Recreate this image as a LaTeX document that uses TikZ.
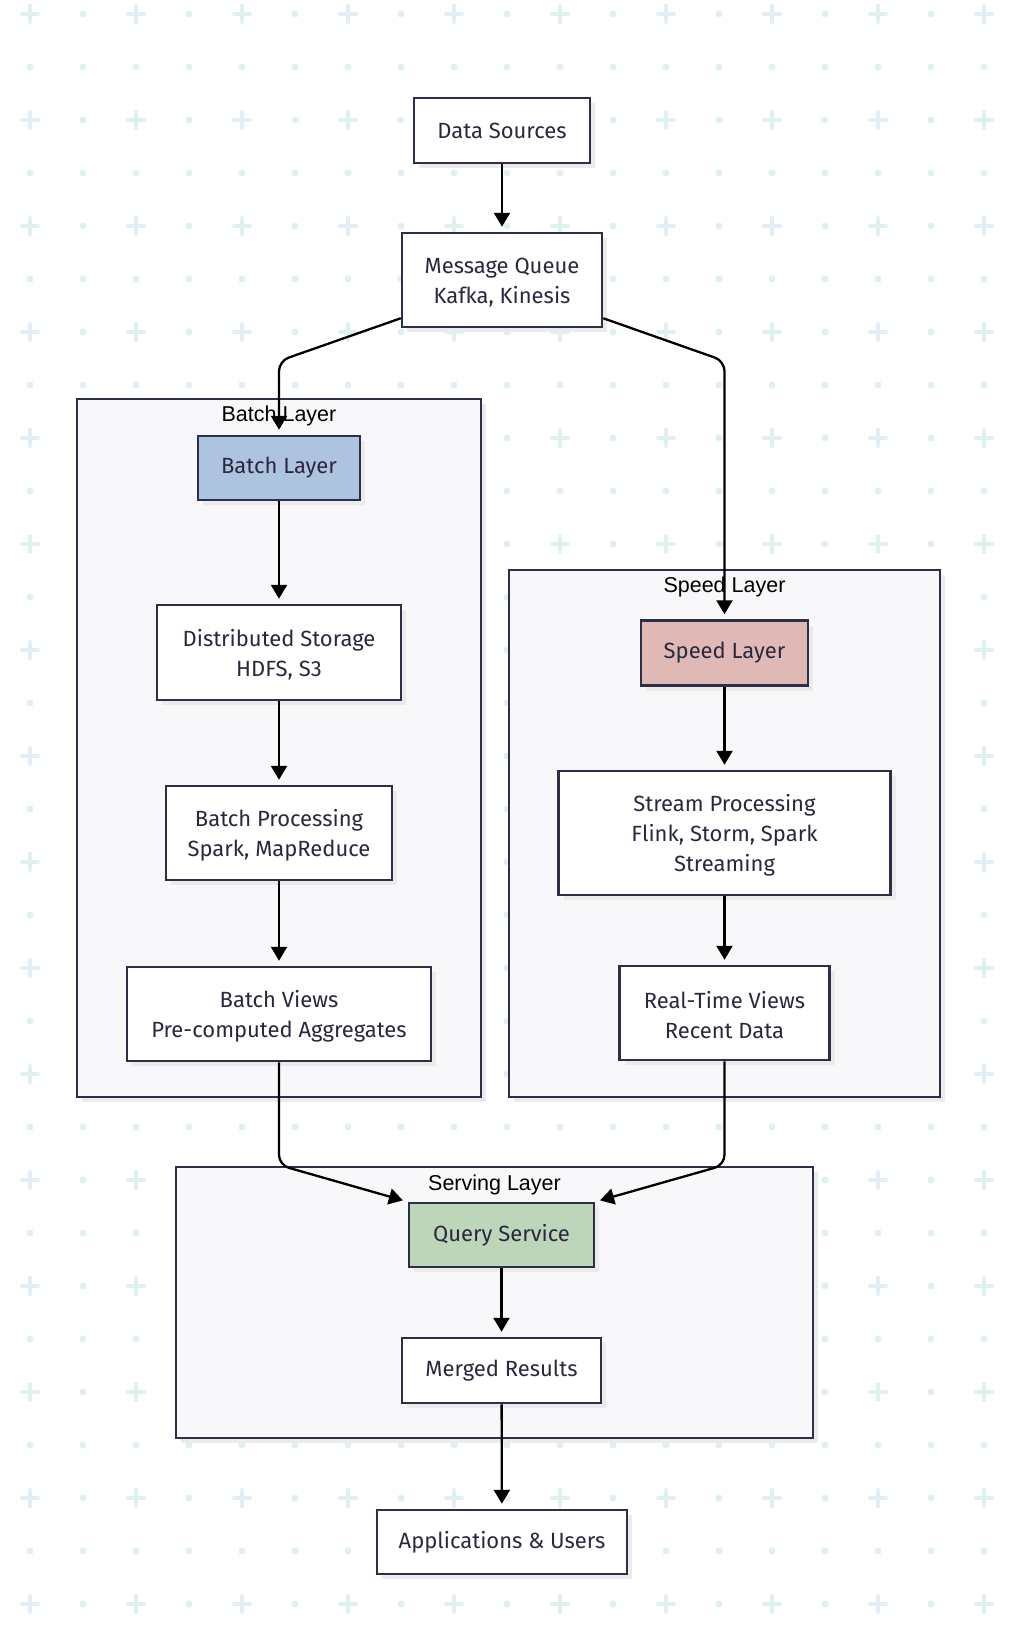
\documentclass[tikz,border=0pt]{standalone}
\usepackage{fontspec}
\setmainfont{Fira Sans}
\newfontfamily\titlefont{Liberation Sans}
\usetikzlibrary{arrows.meta,shadows}

\definecolor{ink}{HTML}{2A283F}
\definecolor{rim}{HTML}{2E2E48}
\definecolor{layerbg}{HTML}{F8F8FA}
\definecolor{gridcol}{HTML}{DFF0F3}
\definecolor{batchfill}{HTML}{AEC3E0}
\definecolor{speedfill}{HTML}{E0B9B7}
\definecolor{servefill}{HTML}{BDD5B9}

\tikzset{
	softshadow/.style={drop shadow={shadow xshift=5pt,shadow yshift=-5pt,fill=black!8,opacity=1}},
	box/.style={draw=rim,line width=2.5pt,fill=white,text=ink,align=center,inner sep=0pt,
		font=\fontsize{22}{30}\selectfont,softshadow},
	layer/.style={draw=rim,line width=2.5pt,fill=layerbg,softshadow},
	title/.style={font=\titlefont\fontsize{21.5}{24}\selectfont,text=black},
	flow/.style={-{Triangle[width=16pt,length=14pt]},line width=2.3pt,shorten >=5pt,rounded corners=10pt}
}

\begin{document}
\begin{tikzpicture}[x=1pt,y=-1pt]
		\useasboundingbox[fill=white] (0,0) rectangle (1012,1634);
		% dotted grid in the back
		\foreach \i in {0,...,18}{
			\foreach \j in {0,...,30}{
				\pgfmathtruncatemacro\k{mod(\i,2)+mod(\j,2)}
				\ifnum\k=0
					\draw[gridcol,line width=4pt,line cap=round] (30+53*\i-8,14+53*\j) -- ++(16,0) (30+53*\i,14+53*\j-8) -- ++(0,16);
				\else
					\fill[gridcol] (30+53*\i,14+53*\j) circle (3.5pt);
				\fi
			}
		}

		% layers
		\node[layer,minimum width=404pt,minimum height=698pt] (batchgrp) at (279,748) {};
		\node[layer,minimum width=431pt,minimum height=527pt] (speedgrp) at (724.5,833.5) {};
		\node[layer,minimum width=637pt,minimum height=271pt] (servegrp) at (494.5,1302.5) {};
		\node[title] (batchtitle) at (279,416) {Batch Layer};
		\node[title] (speedtitle) at (724.5,587) {Speed Layer};
		\node[title] (servetitle) at (494.5,1185) {Serving Layer};

		% nodes
		\node[box,minimum width=176pt,minimum height=65pt] (src) at (502,130.5) {Data Sources};
		\node[box,minimum width=200pt,minimum height=94pt] (mq) at (502,280) {\strut Message Queue\\Kafka, Kinesis};
		\node[box,fill=batchfill,minimum width=162pt,minimum height=64pt] (batch) at (279,468) {Batch Layer};
		\node[box,minimum width=244pt,minimum height=95pt] (storage) at (279,652.5) {\strut Distributed Storage\\HDFS, S3};
		\node[box,minimum width=226pt,minimum height=94pt] (bproc) at (279,833) {\strut Batch Processing\\Spark, MapReduce};
		\node[box,minimum width=304pt,minimum height=94pt] (bviews) at (279,1014) {\strut Batch Views\\Pre-computed Aggregates};
		\node[box,fill=speedfill,minimum width=167pt,minimum height=65pt] (speed) at (724.5,653) {Speed Layer};
		\node[box,minimum width=332pt,minimum height=124pt] (stream) at (724.5,833) {\strut Stream Processing\\Flink, Storm, Spark\\Streaming};
		\node[box,minimum width=210pt,minimum height=94pt] (rtviews) at (724.5,1013) {\strut Real-Time Views\\Recent Data};
		\node[box,fill=servefill,minimum width=185pt,minimum height=64pt] (query) at (501.5,1235) {Query Service};
		\node[box,minimum width=199pt,minimum height=65pt] (merged) at (501.5,1370.5) {Merged Results};
		\node[box,minimum width=250pt,minimum height=64pt] (apps) at (502,1542) {Applications \& Users};

		% connectors
		\draw[flow] (src) -- (mq);
		\draw[flow] ([yshift=10pt]mq.south west) -- (279,361) -- (batch);
		\draw[flow] ([yshift=10pt]mq.south east) -- (724.5,361) -- (speed);
		\draw[flow] (batch) -- (storage);
		\draw[flow] (storage) -- (bproc);
		\draw[flow] (bproc) -- (bviews);
		\draw[flow] (speed) -- (stream);
		\draw[flow] (stream) -- (rtviews);
		\draw[flow] (bviews) -- (279,1165) -- (query.north west);
		\draw[flow] (rtviews) -- (724.5,1165) -- (query.north east);
		\draw[flow] (query) -- (merged);
		\draw[flow] (merged) -- (apps);
 	 \end{tikzpicture}
\end{document}
